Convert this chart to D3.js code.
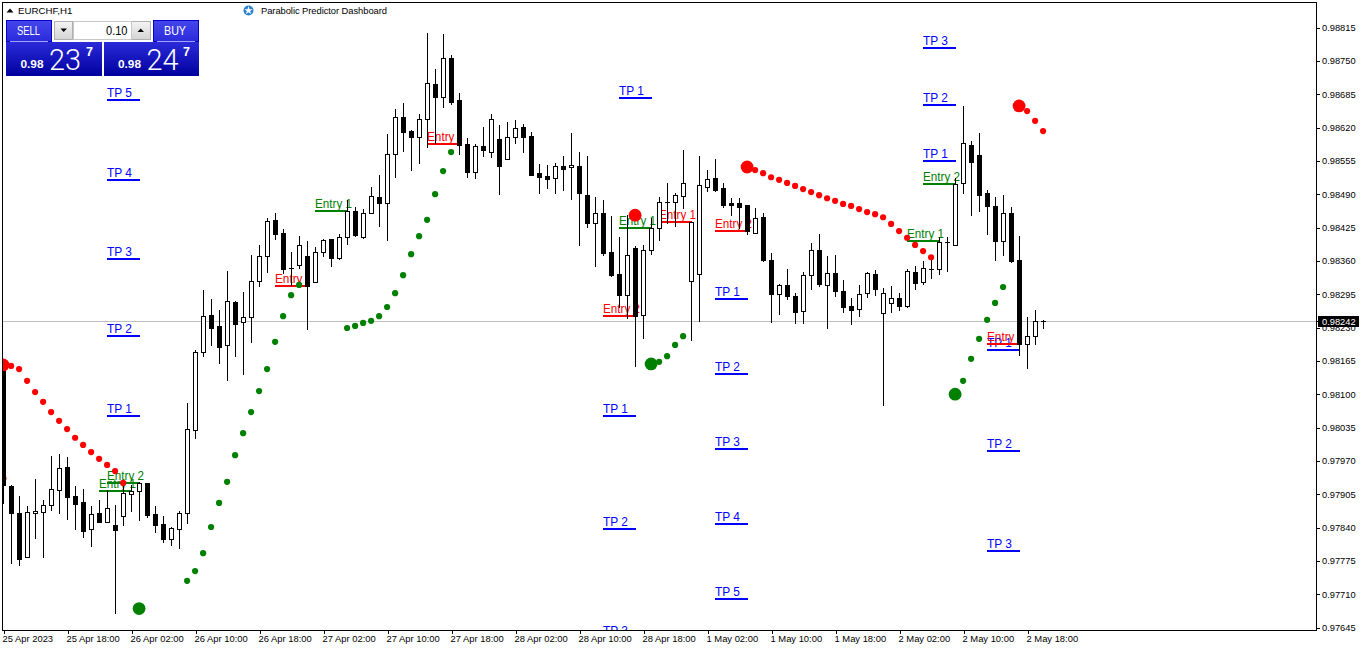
<!DOCTYPE html>
<html><head><meta charset="utf-8">
<style>html,body{margin:0;padding:0;background:#fff;overflow:hidden}svg{display:block}text{font-family:"Liberation Sans",Arial,sans-serif}</style>
<script src="https://cdnjs.cloudflare.com/ajax/libs/d3/7.8.5/d3.min.js"></script>
</head><body><svg id="c" width="1362" height="651"></svg>
<script>
// All prices in points (1e-5 CHF)
const opens=[98147,97921,97868,97782,97868,97870,97884,97913,97958,97901,97890,97837,97868,97851,97845,97862,97905,97911,97927,97866,97847,97818,97837,97868,98030,98182,98254,98233,98196,98280,98241,98250,98321,98369,98440,98414,98346,98352,98369,98319,98377,98403,98366,98406,98457,98406,98453,98484,98473,98568,98640,98613,98601,98637,98705,98680,98756,98674,98588,98533,98584,98572,98598,98559,98601,98621,98603,98531,98525,98521,98545,98543,98545,98488,98434,98453,98377,98334,98293,98385,98254,98381,98424,98475,98475,98486,98321,98334,98504,98521,98502,98473,98473,98469,98414,98445,98362,98295,98313,98291,98262,98332,98381,98313,98336,98301,98272,98266,98297,98334,98258,98278,98288,98272,98338,98319,98344,98344,98397,98391,98512,98586,98566,98492,98467,98399,98453,98362,98198,98213,98242];
const highs=[98163,97923,97901,97882,97934,97894,97979,97983,97977,97921,97915,97882,97894,97913,97884,97929,97923,97929,97927,97882,97862,97841,97872,98083,98186,98303,98286,98264,98340,98282,98299,98371,98391,98444,98453,98422,98377,98408,98399,98387,98403,98403,98412,98479,98465,98461,98504,98527,98607,98656,98668,98615,98646,98804,98734,98802,98761,98687,98600,98588,98621,98646,98625,98631,98635,98627,98611,98549,98547,98551,98564,98609,98572,98564,98484,98479,98447,98406,98449,98389,98391,98444,98484,98512,98492,98576,98436,98564,98537,98559,98512,98482,98482,98469,98463,98453,98375,98315,98344,98297,98338,98395,98412,98369,98371,98323,98288,98313,98338,98342,98307,98311,98297,98344,98350,98360,98367,98406,98406,98521,98662,98594,98609,98498,98484,98488,98465,98408,98250,98264,98245];
const lows=[97888,97771,97767,97782,97819,97782,97874,97868,97856,97837,97821,97804,97851,97851,97673,97845,97872,97854,97860,97831,97812,97806,97800,97849,98015,98174,98196,98161,98128,98174,98139,98202,98311,98338,98403,98336,98313,98346,98227,98319,98369,98350,98364,98393,98408,98405,98453,98428,98401,98523,98574,98537,98551,98582,98590,98660,98666,98568,98523,98521,98564,98562,98490,98559,98590,98572,98527,98492,98502,98492,98498,98481,98391,98426,98350,98371,98330,98270,98248,98155,98209,98373,98401,98434,98428,98463,98206,98243,98496,98496,98465,98449,98424,98412,98414,98360,98241,98256,98286,98239,98239,98305,98311,98229,98291,98260,98237,98252,98289,98293,98079,98260,98264,98270,98305,98315,98327,98334,98340,98391,98492,98449,98457,98412,98362,98371,98358,98176,98151,98198,98229];
const closes=[97923,97868,97779,97870,97872,97884,97915,97956,97899,97886,97833,97866,97851,97878,97835,97907,97911,97927,97864,97845,97818,97839,97868,98032,98182,98252,98229,98192,98282,98237,98250,98321,98369,98438,98412,98344,98346,98391,98311,98377,98401,98366,98406,98457,98410,98453,98486,98473,98568,98640,98611,98601,98637,98707,98680,98756,98670,98586,98533,98584,98576,98637,98545,98601,98619,98601,98527,98523,98520,98545,98539,98547,98492,98434,98453,98375,98332,98293,98371,98252,98381,98424,98475,98475,98488,98512,98436,98508,98520,98498,98469,98469,98465,98418,98444,98362,98295,98313,98291,98260,98332,98381,98315,98336,98301,98270,98264,98295,98336,98305,98297,98288,98272,98340,98317,98346,98344,98397,98397,98510,98590,98553,98488,98467,98399,98453,98360,98198,98213,98243,98242];

// Signal dots: first bar index of each run, run values, first dot of a run is large
const redRunStarts=[0,79,93,127];
const redRuns=[
 [98157,98155,98149,98126,98104,98085,98065,98048,98032,98015,98001,97987,97974,97962,97950,97927],
 [98449],
 [98543,98537,98531,98523,98518,98512,98506,98500,98494,98488,98482,98477,98471,98467,98461,98455,98451,98445,98432,98418,98405,98391,98379,98367],
 [98662,98652,98633,98613]];
const hiddenDotBars=[0], hiddenDotValues=[97936];
const greenBigBars=[17,81,119], greenBigValues=[97682,98159,98100];
const greenRunStarts=[23,43,82,120];
const greenRuns=[
 [97736,97755,97790,97841,97888,97929,97981,98024,98065,98106,98149,98202,98252,98293,98313],
 [98229,98233,98239,98243,98252,98270,98297,98332,98373,98408,98440,98490,98535,98572],
 [98163,98174,98196,98213],
 [98126,98169,98208,98245,98278,98309]];

// Level lines (4 bars long)
const tpLabels=["TP 5","TP 4","TP 3","TP 2","TP 1","TP 1","TP 1","TP 2","TP 3","TP 1","TP 2","TP 3","TP 4","TP 5","TP 3","TP 2","TP 1","TP 1","TP 2","TP 3"];
const tpBars=[13,13,13,13,13,77,75,75,75,89,89,89,89,89,115,115,115,123,123,123];
const tpPrices=[98674,98518,98364,98213,98057,98678,98057,97837,97625,98286,98139,97993,97847,97701,98775,98664,98555,98186,97989,97794];
const buyEntryLabels=["Entry 2","Entry 1","Entry 1","Entry 1","Entry 1","Entry 2"];
const buyEntryBars=[13,12,39,77,113,115];
const buyEntryPrices=[97927,97911,98458,98424,98399,98510];
const sellEntryLabels=["Entry","Entry","Entry 2","Entry 1","Entry 2","Entry"];
const sellEntryBars=[34,53,75,82,89,123];
const sellEntryPrices=[98311,98588,98252,98436,98418,98198];

const priceTicks=[98815,98750,98685,98620,98555,98490,98425,98360,98295,98230,98165,98100,98035,97970,97905,97840,97775,97710,97645];
const timeTickBars=[0,8,16,24,32,40,48,56,64,72,80,88,96,104,112,120,128];
const timeLabels=["25 Apr 2023","25 Apr 18:00","26 Apr 02:00","26 Apr 10:00","26 Apr 18:00","27 Apr 02:00","27 Apr 10:00","27 Apr 18:00","28 Apr 02:00","28 Apr 10:00","28 Apr 18:00","1 May 02:00","1 May 10:00","1 May 18:00","2 May 02:00","2 May 10:00","2 May 18:00"];
const lastPrice=98242;

const svg=d3.select("#c");
const x=d3.scaleLinear().domain([0,1]).range([3.5,11.5]);
const y=d3.scaleLinear().domain([97645,98815]).range([627.5,27.5]);
const py=v=>Math.round(y(v));
const defs=svg.append("defs");
defs.append("clipPath").attr("id","plot").append("rect").attr("x",3).attr("y",3).attr("width",1313).attr("height",627);
const g1=defs.append("linearGradient").attr("id","gU").attr("x1",0).attr("x2",0).attr("y1",0).attr("y2",1);
g1.append("stop").attr("offset",0).attr("stop-color","#4646ee");g1.append("stop").attr("offset",1).attr("stop-color","#2a2ada");
const g2=defs.append("linearGradient").attr("id","gL").attr("x1",0).attr("x2",0).attr("y1",0).attr("y2",1);
g2.append("stop").attr("offset",0).attr("stop-color","#2a2ada");g2.append("stop").attr("offset",1).attr("stop-color","#00009e");
const g3=defs.append("linearGradient").attr("id","gB").attr("x1",0).attr("x2",0).attr("y1",0).attr("y2",1);
g3.append("stop").attr("offset",0).attr("stop-color","#f4f4f4");g3.append("stop").attr("offset",1).attr("stop-color","#d4d4d4");

const plot=svg.append("g").attr("clip-path","url(#plot)");
// current price line
plot.append("line").attr("x1",3).attr("x2",1316).attr("y1",py(lastPrice)+.5).attr("y2",py(lastPrice)+.5).attr("stroke","#c0c0c0").attr("shape-rendering","crispEdges");

// level lines and labels (behind candles)
function levels(labels,bars,prices,color){
  const g=plot.append("g");
  const rows=labels.map((l,i)=>({l,b:bars[i],p:prices[i]}));
  g.selectAll("rect").data(rows).join("rect")
    .attr("x",d=>x(d.b)-.5).attr("width",d=>x(d.b+4)-x(d.b)+1)
    .attr("y",d=>py(d.p)-1).attr("height",2).attr("fill",color).attr("shape-rendering","crispEdges");
  g.selectAll("text").data(rows).join("text")
    .attr("x",d=>x(d.b)-.5).attr("y",d=>py(d.p)-3).attr("fill",color)
    .style("font-size","12.6px")
    .attr("textLength",d=>d.l==="Entry"?27.5:(d.l.startsWith("TP")?25:37)).attr("lengthAdjust","spacingAndGlyphs")
    .text(d=>d.l);
}
levels(tpLabels,tpBars,tpPrices,"#0000ff");
levels(buyEntryLabels,buyEntryBars,buyEntryPrices,"#008000");
levels(sellEntryLabels,sellEntryBars,sellEntryPrices,"#ff0000");

plot.append("g").selectAll("circle").data(hiddenDotBars).join("circle")
  .attr("cx",d=>x(d)).attr("cy",(d,i)=>y(hiddenDotValues[i])).attr("r",3).attr("fill","#ff0000");

// candles
const candles=opens.map((o,i)=>({i,o,h:highs[i],l:lows[i],c:closes[i]}));
const cg=plot.append("g").attr("shape-rendering","crispEdges");
cg.selectAll("line").data(candles).join("line")
  .attr("x1",d=>Math.floor(x(d.i))+.5).attr("x2",d=>Math.floor(x(d.i))+.5)
  .attr("y1",d=>py(d.h)).attr("y2",d=>py(d.l)+1).attr("stroke","#000");
cg.selectAll("rect").data(candles).join("rect")
  .each(function(d){
    const top=py(Math.max(d.o,d.c)),bot=py(Math.min(d.o,d.c)),c=Math.floor(x(d.i))+.5;
    const s=d3.select(this);
    if(d.c>d.o){ // bull: white, outlined
      s.attr("x",c-2).attr("width",4).attr("y",top+.5).attr("height",Math.max(bot-top,1)).attr("fill","#fff").attr("stroke","#000");
    }else{
      s.attr("x",c-2.5).attr("width",5).attr("y",top).attr("height",Math.max(bot-top+1,1)).attr("fill","#000");
    }
  });

// dots
function dots(starts,runs,color,bigFirst){
  const rows=[];
  runs.forEach((r,k)=>r.forEach((v,j)=>rows.push({b:starts[k]+j,v,big:bigFirst&&j===0})));
  plot.append("g").selectAll("circle").data(rows).join("circle")
    .attr("cx",d=>x(d.b)-.4).attr("cy",d=>y(d.v)).attr("r",d=>d.big?6.4:3.1).attr("fill",color);
}
dots(greenRunStarts,greenRuns,"#008000",false);
plot.append("g").selectAll("circle").data(greenBigBars).join("circle")
  .attr("cx",d=>x(d)-.4).attr("cy",(d,i)=>y(greenBigValues[i])).attr("r",6.4).attr("fill","#008000");
dots(redRunStarts,redRuns,"#ff0000",true);

// axes
const yAxis=d3.axisRight(y).tickValues(priceTicks).tickSize(3).tickPadding(2.5).tickFormat(v=>(v/1e5).toFixed(5));
const ya=svg.append("g").attr("transform","translate(1316.5,0)").attr("shape-rendering","crispEdges").call(yAxis);
ya.select(".domain").remove();
ya.selectAll(".tick line").attr("stroke","#000");
ya.selectAll("text").attr("fill","#000").style("font-size","9.3px").style("font-family",'"Liberation Sans"');

const xAxis=d3.axisBottom(x).tickValues(timeTickBars).tickSize(3).tickPadding(2).tickFormat((d,i)=>timeLabels[i]);
const xa=svg.append("g").attr("transform","translate(0,630.5)").attr("shape-rendering","crispEdges").call(xAxis);
xa.select(".domain").remove();
xa.selectAll(".tick line").attr("stroke","#000");
xa.selectAll("text").attr("fill","#000").attr("text-anchor","start").attr("dx",-1.5).style("font-size","9.4px").style("font-family",'"Liberation Sans"');

// frame
const frame=svg.append("g").attr("stroke","#000").attr("shape-rendering","crispEdges");
frame.append("line").attr("x1",2.5).attr("x2",2.5).attr("y1",2).attr("y2",631);
frame.append("line").attr("x1",2).attr("x2",1317).attr("y1",2.5).attr("y2",2.5);
frame.append("line").attr("x1",1316.5).attr("x2",1316.5).attr("y1",2).attr("y2",631);
frame.append("line").attr("x1",2).attr("x2",1317).attr("y1",630.5).attr("y2",630.5);

// last price tag
svg.append("rect").attr("x",1318).attr("y",py(lastPrice)-5).attr("width",41).attr("height",11).attr("fill","#000");
svg.append("line").attr("x1",1316).attr("x2",1320).attr("y1",py(lastPrice)+.5).attr("y2",py(lastPrice)+.5).attr("stroke","#000").attr("shape-rendering","crispEdges");
svg.append("text").attr("x",1322).attr("y",py(lastPrice)+3.5).attr("fill","#fff").style("font-size","9.3px").text((lastPrice/1e5).toFixed(5));

// header
svg.append("path").attr("d","M6.5 12.5 L13.5 12.5 L10 8.5 Z").attr("fill","#000");
svg.append("text").attr("x",18).attr("y",14).attr("fill","#000").style("font-size","9.7px").text("EURCHF,H1");
svg.append("circle").attr("cx",248.5).attr("cy",10.5).attr("r",5).attr("fill","#2b80cf");
const star=d3.symbol().type(d3.symbolStar).size(22)();
svg.append("path").attr("d",star).attr("transform","translate(248.5,10.5)").attr("fill","#fff");
svg.append("text").attr("x",261).attr("y",14).attr("fill","#000").style("font-size","9.4px").attr("textLength",126).text("Parabolic Predictor Dashboard");

// one-click panel
const panel=svg.append("g");
panel.append("rect").attr("x",6.5).attr("y",20.5).attr("width",45).attr("height",21).attr("fill","url(#gU)").attr("stroke","#0000c8").attr("shape-rendering","crispEdges");
panel.append("rect").attr("x",153.5).attr("y",20.5).attr("width",45).attr("height",21).attr("fill","url(#gU)").attr("stroke","#0000c8").attr("shape-rendering","crispEdges");
panel.append("rect").attr("x",6).attr("y",42).attr("width",96).attr("height",34).attr("fill","url(#gL)");
panel.append("rect").attr("x",104).attr("y",42).attr("width",95).attr("height",34).attr("fill","url(#gL)");
panel.append("line").attr("x1",10).attr("x2",48).attr("y1",41.5).attr("y2",41.5).attr("stroke","#a0a0ff").attr("shape-rendering","crispEdges");
panel.append("line").attr("x1",157).attr("x2",195).attr("y1",41.5).attr("y2",41.5).attr("stroke","#a0a0ff").attr("shape-rendering","crispEdges");
panel.append("rect").attr("x",54.5).attr("y",21.5).attr("width",18).attr("height",18).attr("fill","url(#gB)").attr("stroke","#b0b0b0").attr("shape-rendering","crispEdges");
panel.append("rect").attr("x",131.5).attr("y",21.5).attr("width",19).attr("height",18).attr("fill","url(#gB)").attr("stroke","#b0b0b0").attr("shape-rendering","crispEdges");
panel.append("rect").attr("x",73.5).attr("y",21.5).attr("width",58).attr("height",18).attr("fill","#fff").attr("stroke","#c8c8c8").attr("shape-rendering","crispEdges");
panel.append("path").attr("d","M60.5 28.5 H67 L63.7 32 Z").attr("fill","#000");
panel.append("path").attr("d","M137.5 32 H144 L140.7 28.5 Z").attr("fill","#000");
const ptxt=(t,xp,yp,fs,fw,col,len,fam)=>{const e=panel.append("text").attr("x",xp).attr("y",yp).attr("fill",col).style("font-size",fs+"px").style("font-weight",fw).text(t);
  if(len)e.attr("textLength",len).attr("lengthAdjust","spacingAndGlyphs");if(fam)e.style("font-family",fam);return e;};
ptxt("SELL",17,35,13,400,"#fff",23);
ptxt("BUY",164,35,13,400,"#fff",22);
ptxt("0.10",106,35,12.5,400,"#000",21.5);
ptxt("0.98",20.5,68,11.8,700,"#fff",0);
ptxt("23",49,70,29.5,300,"#fff",32,"Roboto");
ptxt("7",86,56,12.5,700,"#fff",0);
ptxt("0.98",118,68,11.8,700,"#fff",0);
ptxt("24",146.5,70,29.5,300,"#fff",32,"Roboto");
ptxt("7",183,56,12.5,700,"#fff",0);
</script></body></html>
